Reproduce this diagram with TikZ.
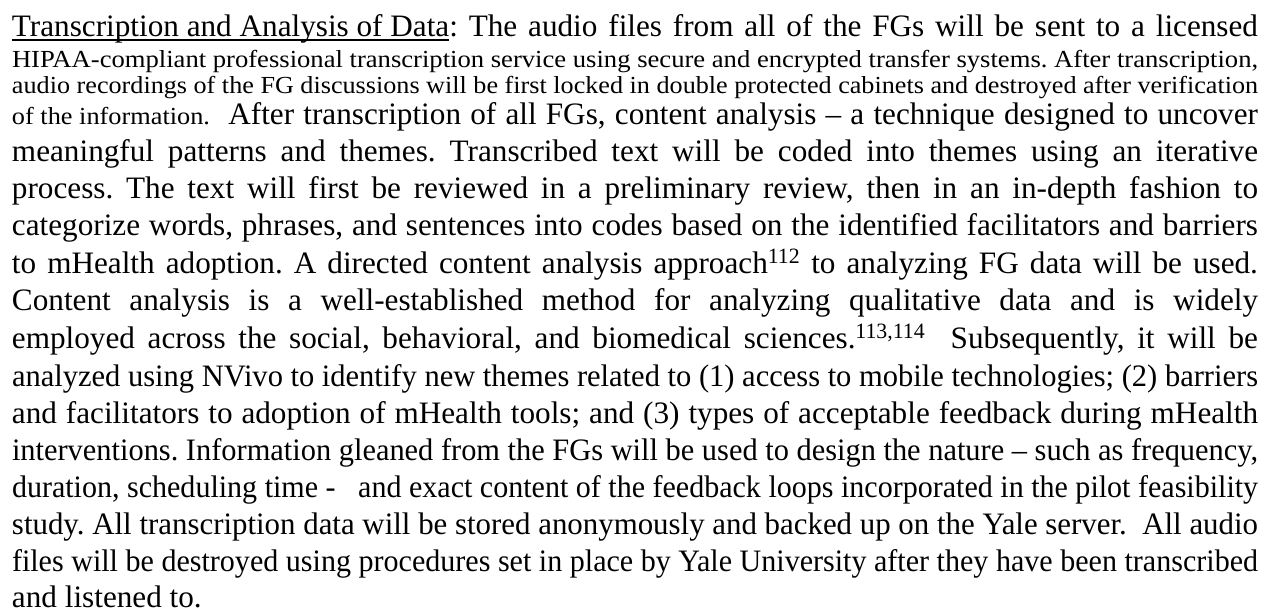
\documentclass[tikz,border=0pt]{standalone}
\usepackage{fontspec}
\setmainfont{Liberation Serif}
\usepackage{graphicx}
\frenchspacing

% Justified line: stretch the spaces when the line is short,
% condense the glyphs horizontally when it is too long.
\newlength\linew
\setlength\linew{1246pt}
\newsavebox\linebox
\newcommand\jline[1]{%
  \sbox\linebox{#1}%
  \ifdim\wd\linebox>\linew
    \resizebox{\linew}{\height}{\usebox\linebox}%
  \else
    \makebox[\linew][s]{#1}%
  \fi}
% Small print, widened to fill the whole line
\newcommand\wline[1]{\resizebox{\linew}{\height}{#1}}
% Heavier underline than \underline gives at this size
\newsavebox\ulbox
\newcommand\ulined[1]{\sbox\ulbox{#1}\rlap{\rule[-5pt]{\wd\ulbox}{1.8pt}}\usebox\ulbox}

\begin{document}
\begin{tikzpicture}[x=1pt,y=1pt,
  bodyline/.style={anchor=base west,inner sep=0pt,outer sep=0pt,
    font=\fontsize{31.2}{36}\selectfont},
  smallline/.style={anchor=base west,inner sep=0pt,outer sep=0pt,
    font=\fontsize{24.5}{28}\selectfont}]
\useasboundingbox (0,0) rectangle (1271,-613);
\fill[white] (0,0) rectangle (1271,-613);

\node[bodyline] (l1) at (12,-36) {\jline{\ulined{Transcription and Analysis of Data}: The audio files from all of the FGs will be sent to a licensed}};
\node[smallline] (l2) at (12,-67.5) {\wline{HIPAA-compliant professional transcription service using secure and encrypted transfer systems. After transcription,}};
\node[smallline] (l3) at (12,-93) {\wline{audio recordings of the FG discussions will be first locked in double protected cabinets and destroyed after verification}};
\node[bodyline] (l4) at (12,-124) {\jline{\resizebox{198pt}{\height}{\fontsize{24.5}{28}\selectfont of the information.}\ \ After transcription of all FGs, content analysis -- a technique designed to uncover}};
\node[bodyline] (l5) at (12,-161) {\jline{meaningful patterns and themes. Transcribed text will be coded into themes using an iterative}};
\node[bodyline] (l6) at (12,-198) {\jline{process. The text will first be reviewed in a preliminary review, then in an in-depth fashion to}};
\node[bodyline] (l7) at (12,-235) {\jline{categorize words, phrases, and sentences into codes based on the identified facilitators and barriers}};
\node[bodyline] (l8) at (12,-273) {\jline{to mHealth adoption. A directed content analysis approach\textsuperscript{112} to analyzing FG data will be used.}};
\node[bodyline] (l9) at (12,-310) {\jline{Content analysis is a well-established method for analyzing qualitative data and is widely}};
\node[bodyline] (l10) at (12,-348) {\jline{employed across the social, behavioral, and biomedical sciences.\textsuperscript{113,114}\ \ Subsequently, it will be}};
\node[bodyline] (l11) at (12,-386) {\jline{analyzed using NVivo to identify new themes related to (1) access to mobile technologies; (2) barriers}};
\node[bodyline] (l12) at (12,-423) {\jline{and facilitators to adoption of mHealth tools; and (3) types of acceptable feedback during mHealth}};
\node[bodyline] (l13) at (12,-460) {\jline{interventions. Information gleaned from the FGs will be used to design the nature -- such as frequency,}};
\node[bodyline] (l14) at (12,-497) {\jline{duration, scheduling time -\ \ \ and exact content of the feedback loops incorporated in the pilot feasibility}};
\node[bodyline] (l15) at (12,-534) {\jline{study. All transcription data will be stored anonymously and backed up on the Yale server.\ \ All audio}};
\node[bodyline] (l16) at (12,-571) {\jline{files will be destroyed using procedures set in place by Yale University after they have been transcribed}};
\node[bodyline] (l17) at (12,-607) {and listened to.};
\end{tikzpicture}
\end{document}
